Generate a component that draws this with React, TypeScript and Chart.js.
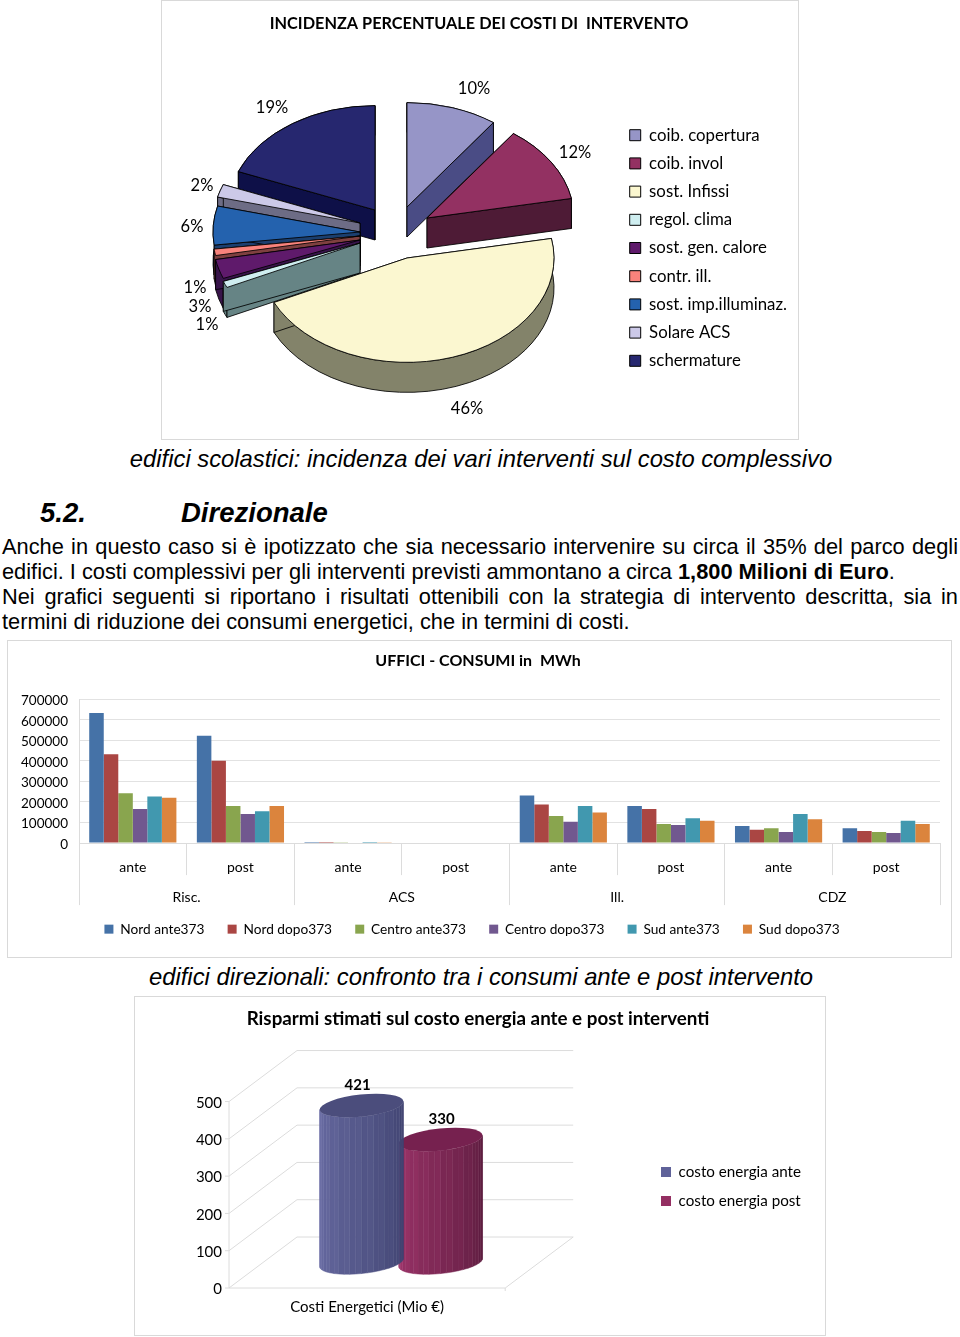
import React, { useEffect, useRef } from "react";
import { Chart, registerables } from "chart.js";

Chart.register(...registerables);
Chart.defaults.font.family = "Lato";
Chart.defaults.color = "#000";

// ---------- pie ----------
const pieTitle = "INCIDENZA PERCENTUALE DEI COSTI DI  INTERVENTO";
const pieLabels = ["coib. copertura", "coib. invol", "sost. Infissi", "regol. clima", "sost. gen. calore", "contr. ill.", "sost. imp.illuminaz.", "Solare ACS", "schermature"];
const pieValues = [10, 12, 46, 1, 3, 1, 6, 2, 19];
const pieColors = ["#9695c7", "#933162", "#fbf7d0", "#cfeef0", "#5f1a6b", "#f8837c", "#2462ae", "#ccc9e8", "#26276f"];
const pieSides = ["#4a4c85", "#4e1b36", "#83836a", "#668485", "#38144a", "#7f4040", "#1b3f6f", "#6d6c85", "#0e1048"];
const pieShift = [[14, -25], [34, -14], [14, 26], [-33, 11], [-33, 8], [-33, 4], [-33, 0], [-33, -9], [-18, -22]];
const pieDrawOrder = [8, 0, 1, 7, 6, 5, 4, 3, 2];
const pieLabelOffsets = [[81, -143], [182, -79], [74, 177], [-198, 56], [-193, 75], [-186, 93], [-201, -5], [-191, -46], [-121, -124]];

// ---------- grouped bars ----------
const barTitle = "UFFICI - CONSUMI in  MWh";
const useLabels = ["ante", "post", "ante", "post", "ante", "post", "ante", "post"];
const groupLabels = ["Risc.", "ACS", "Ill.", "CDZ"];
const seriesNames = ["Nord ante373", "Nord dopo373", "Centro ante373", "Centro dopo373", "Sud ante373", "Sud dopo373"];
const seriesColors = ["#4572a7", "#aa4643", "#89a54e", "#71588f", "#4198af", "#db843d"];
const nordAnte = [633000, 522000, 5000, 0, 232000, 181000, 83000, 72000];
const nordDopo = [432000, 400000, 5000, 0, 188000, 166000, 65000, 59000];
const centroAnte = [243000, 181000, 4000, 0, 132000, 93000, 72000, 54000];
const centroDopo = [166000, 142000, 0, 0, 104000, 88000, 54000, 49000];
const sudAnte = [227000, 155000, 5000, 0, 181000, 121000, 142000, 109000];
const sudDopo = [220000, 181000, 4000, 0, 149000, 109000, 116000, 93000];
const barSeries = [nordAnte, nordDopo, centroAnte, centroDopo, sudAnte, sudDopo];

// ---------- cylinders ----------
const cylTitle = "Risparmi stimati sul costo energia ante e post interventi";
const cylCategory = ["Costi Energetici (Mio €)"];
const cylNames = ["costo energia ante", "costo energia post"];
const cylValues = [421, 330];
const cylSwatch = ["#5f6299", "#942f62"];
const cylLight = [[104, 107, 162], [158, 52, 106]];
const cylDark = [[62, 65, 110], [90, 28, 62]];
const cylTop = ["#4b4d7c", "#76214f"];

const nudge = {
  id: "nudge",
  afterLayout(chart: any, _a: any, opts: any) {
    const move = (box: any, d: number[]) => {
      if (!box || !d) return;
      box.left += d[0];
      box.right += d[0];
      box.top += d[1];
      box.bottom += d[1];
    };
    move(chart.legend, opts.legend);
    move(chart.titleBlock, opts.title);
  },
};

const pie3d = {
  id: "pie3d",
  beforeDatasetDraw(chart: any, _args: any, opts: any) {
    const ctx = chart.ctx;
    const arcs = chart.getDatasetMeta(0).data;
    const a0 = arcs[0];
    const s = opts.squash;
    ctx.save();
    ctx.translate(opts.cx, opts.cy);
    ctx.scale(1, s);
    ctx.translate(-a0.x, -a0.y);
    const off = (i: number) => [pieShift[i][0], pieShift[i][1] / s];
    for (const i of pieDrawOrder) {
      const a = arcs[i];
      const [dx, dy] = off(i);
      const depth = opts.depth / s;
      const ax = a.x + dx, ay = a.y + dy;
      ctx.strokeStyle = "#000";
      ctx.lineWidth = 1;
      ctx.fillStyle = pieSides[i];
      // outer curved wall
      ctx.beginPath();
      ctx.arc(ax, ay, a.outerRadius, a.startAngle, a.endAngle);
      ctx.arc(ax, ay + depth, a.outerRadius, a.endAngle, a.startAngle, true);
      ctx.closePath();
      ctx.fill();
      ctx.stroke();
      // radial walls
      for (const ang of [a.startAngle, a.endAngle]) {
        const ex = ax + Math.cos(ang) * a.outerRadius;
        const ey = ay + Math.sin(ang) * a.outerRadius;
        ctx.beginPath();
        ctx.moveTo(ax, ay);
        ctx.lineTo(ex, ey);
        ctx.lineTo(ex, ey + depth);
        ctx.lineTo(ax, ay + depth);
        ctx.closePath();
        ctx.fill();
        ctx.stroke();
      }
    }
    for (const i of pieDrawOrder) {
      const [dx, dy] = off(i);
      ctx.save();
      ctx.translate(dx, dy);
      arcs[i].draw(ctx);
      ctx.restore();
    }
    ctx.restore();
    ctx.save();
    ctx.fillStyle = "#000";
    ctx.font = "16.5px Lato";
    ctx.textAlign = "center";
    ctx.textBaseline = "middle";
    pieValues.forEach((v, i) => {
      ctx.fillText(v + "%", opts.cx + pieLabelOffsets[i][0], opts.cy + pieLabelOffsets[i][1]);
    });
    ctx.restore();
    return false;
  },
};

const DX = 68;
const DY = 51;

const wall3d = {
  id: "wall3d",
  beforeDatasetsDraw(chart: any) {
    const ctx = chart.ctx;
    const y = chart.scales.y;
    const { left, right, bottom } = chart.chartArea;
    ctx.save();
    ctx.strokeStyle = "#dcdcdc";
    ctx.lineWidth = 1;
    y.ticks.forEach((t: any) => {
      const py = y.getPixelForValue(t.value);
      ctx.beginPath();
      ctx.moveTo(left - 4, py);
      ctx.lineTo(left, py);
      ctx.lineTo(left + DX, py - DY);
      ctx.lineTo(right + DX, py - DY);
      ctx.stroke();
    });
    ctx.beginPath();
    ctx.moveTo(left, y.getPixelForValue(y.max));
    ctx.lineTo(left, bottom);
    ctx.lineTo(right, bottom);
    ctx.lineTo(right + DX, bottom - DY);
    ctx.moveTo(right, bottom);
    ctx.lineTo(right, bottom + 3);
    ctx.stroke();
    ctx.restore();
  },
};

function mix(a: number[], b: number[], f: number) {
  return `rgb(${a.map((v, i) => Math.round(v + (b[i] - v) * f)).join(",")})`;
}

const cylinders = {
  id: "cylinders",
  beforeDatasetDraw(chart: any, args: any) {
    const i = args.index;
    const ctx = chart.ctx;
    const bar = chart.getDatasetMeta(i).data[0];
    const cx = bar.x + DX / 2;
    const top = bar.y - DY / 2;
    const base = bar.base - DY / 2;
    const rx = bar.width / 2 + 2.5;
    const ry = 11;
    const th = (-6 * Math.PI) / 180;
    const pt = (t: number) => [
      rx * Math.cos(t) * Math.cos(th) - ry * Math.sin(t) * Math.sin(th),
      rx * Math.cos(t) * Math.sin(th) + ry * Math.sin(t) * Math.cos(th),
    ];
    const t0 = Math.atan2(-ry * Math.sin(th), rx * Math.cos(th));
    const N = 22;
    ctx.save();
    for (let k = 0; k < N; k++) {
      const a = pt(t0 + (Math.PI * k) / N);
      const b = pt(t0 + (Math.PI * (k + 1)) / N);
      const shade = k % 2 === 0 ? 0 : 0.06;
      const c = mix(cylDark[i], cylLight[i], Math.min(1, k / (N - 1) + shade));
      ctx.fillStyle = c;
      ctx.strokeStyle = c;
      ctx.lineWidth = 0.5;
      ctx.beginPath();
      ctx.moveTo(cx + a[0], top + a[1]);
      ctx.lineTo(cx + b[0], top + b[1]);
      ctx.lineTo(cx + b[0], base + b[1]);
      ctx.lineTo(cx + a[0], base + a[1]);
      ctx.closePath();
      ctx.fill();
      ctx.stroke();
    }
    ctx.fillStyle = cylTop[i];
    ctx.beginPath();
    ctx.ellipse(cx, top, rx, ry, th, 0, Math.PI * 2);
    ctx.fill();
    ctx.fillStyle = "#000";
    ctx.font = "bold 15px Lato";
    ctx.textAlign = "center";
    ctx.textBaseline = "middle";
    ctx.fillText(String(chart.data.datasets[i].data[0]), cx + (i === 0 ? -4 : 1), top - 20);
    ctx.restore();
    return false;
  },
};

function ChartBox({ left, top, width, height, make }: any) {
  const ref = useRef<HTMLCanvasElement>(null);
  useEffect(() => {
    const chart = new Chart(ref.current as HTMLCanvasElement, make());
    return () => chart.destroy();
  }, []);
  return (
    <div style={{ position: "absolute", left, top, width, height, border: "1px solid #d9d9d9", background: "#fff" }}>
      <canvas ref={ref} width={width} height={height} style={{ display: "block", width, height }} />
    </div>
  );
}

const pieConfig = () => ({
  type: "pie",
  data: {
    labels: pieLabels,
    datasets: [{ data: pieValues, backgroundColor: pieColors, borderColor: "#000", borderWidth: 1 }],
  },
  plugins: [pie3d, nudge],
  options: {
    responsive: false,
    animation: false,
    radius: 147,
    layout: { padding: { top: 0, right: 2, bottom: 0, left: 0 } },
    plugins: {
      title: { display: true, text: pieTitle, font: { size: 16.3, weight: "bold" }, padding: { top: 13, bottom: 10 } },
      legend: {
        position: "right",
        maxWidth: 300,
        labels: { boxWidth: 11, boxHeight: 11, padding: 11.4, font: { size: 16.8 } },
      },
      tooltip: { enabled: false },
      pie3d: { cx: 231, cy: 231, squash: 0.71, depth: 30 },
      nudge: { legend: [1, 28] },
    },
  },
});

const barConfig = () => ({
  type: "bar",
  data: {
    labels: useLabels,
    datasets: seriesNames.map((n, i) => ({
      label: n,
      data: barSeries[i],
      backgroundColor: seriesColors[i],
      barPercentage: 1,
      categoryPercentage: 0.81,
    })),
  },
  plugins: [nudge],
  options: {
    responsive: false,
    animation: false,
    layout: { padding: { top: 0, right: 11, bottom: 5, left: 0 } },
    scales: {
      y: {
        min: 0,
        max: 700000,
        ticks: { stepSize: 100000, font: { size: 13.5 }, padding: 11, autoSkip: false, labelOffset: 1.5, callback: (v: any) => String(v) },
        grid: { color: "#e2e2e2", drawTicks: false },
        border: { color: "#dcdcdc" },
        afterFit: (s: any) => { s.width = 71; },
      },
      x: {
        offset: true,
        weight: 0,
        grid: { offset: true, drawOnChartArea: false, tickLength: 32, color: "#dcdcdc" },
        border: { color: "#dcdcdc" },
        ticks: { padding: -16, font: { size: 14 }, maxRotation: 0, autoSkip: false },
        afterFit: (s: any) => { s.height = 32; },
      },
      x2: {
        type: "category",
        labels: groupLabels,
        position: "bottom",
        offset: true,
        weight: 1,
        grid: { offset: true, drawOnChartArea: false, tickLength: 30, color: "#dcdcdc" },
        border: { display: false },
        ticks: { padding: -16, font: { size: 14 }, maxRotation: 0, autoSkip: false },
        afterFit: (s: any) => { s.height = 30; },
      },
    },
    plugins: {
      title: { display: true, text: barTitle, font: { size: 16, weight: "bold" }, padding: { top: 10, bottom: 29 } },
      legend: {
        position: "bottom",
        labels: { boxWidth: 9, boxHeight: 9, padding: 23.2, font: { size: 13.7 } },
      },
      tooltip: { enabled: false },
      nudge: { legend: [-2, -6], title: [4, 0] },
    },
  },
});

const cylConfig = () => ({
  type: "bar",
  data: {
    labels: cylCategory,
    datasets: cylNames.map((n, i) => ({
      label: n,
      data: [cylValues[i]],
      backgroundColor: cylSwatch[i],
      barPercentage: 1,
      categoryPercentage: 0.573,
    })),
  },
  plugins: [wall3d, cylinders, nudge],
  options: {
    responsive: false,
    animation: false,
    layout: { padding: { top: 0, right: 0, bottom: 0, left: 0 } },
    scales: {
      y: {
        min: 0,
        max: 500,
        ticks: { stepSize: 100, font: { size: 15 }, padding: 7, autoSkip: false, labelOffset: 1.5 },
        grid: { display: false, drawTicks: false },
        border: { display: false },
        afterFit: (s: any) => { s.width = 94; },
      },
      gap: {
        type: "linear",
        position: "right",
        display: true,
        ticks: { display: false },
        grid: { display: false, drawTicks: false },
        border: { display: false },
        afterFit: (s: any) => { s.width = 156; },
      },
      x: {
        grid: { display: false, drawTicks: false },
        border: { display: false },
        ticks: { font: { size: 15 }, padding: 10 },
        afterFit: (s: any) => { s.height = 47; },
      },
    },
    plugins: {
      title: { display: true, text: cylTitle, font: { size: 18.8, weight: "bold" }, padding: { top: 11, bottom: 71 } },
      legend: {
        position: "right",
        maxWidth: 300,
        labels: { boxWidth: 10, boxHeight: 10, padding: 13.8, font: { size: 15.2 } },
      },
      tooltip: { enabled: false },
      nudge: { legend: [-14, 20.5], title: [-2, 0] },
    },
  },
});

const bodyFont = '"Liberation Sans", Arial, sans-serif';

function Line({ top, justify, children }: any) {
  return (
    <div
      style={{
        position: "absolute",
        left: 2,
        top,
        width: 956,
        fontFamily: bodyFont,
        fontSize: 21.8,
        lineHeight: "25px",
        textAlign: justify ? "justify" : "left",
        textAlignLast: justify ? "justify" : "left",
      }}
    >
      {children}
    </div>
  );
}

function Caption({ top, children }: any) {
  return (
    <div
      style={{
        position: "absolute",
        left: 1,
        top,
        width: 960,
        textAlign: "center",
        fontFamily: bodyFont,
        fontStyle: "italic",
        fontSize: 23.8,
        lineHeight: "28px",
        whiteSpace: "nowrap",
      }}
    >
      {children}
    </div>
  );
}

const headStyle: any = { position: "absolute", top: 497, fontFamily: bodyFont, fontStyle: "italic", fontWeight: "bold", fontSize: 27.5, lineHeight: "32px" };

export default function App() {
  return (
    <div style={{ position: "absolute", left: 0, top: 0, width: 960, height: 1337, background: "#fff", overflow: "hidden", color: "#000" }}>
      <ChartBox left={161} top={0} width={636} height={438} make={pieConfig} />
      <Caption top={445}>edifici scolastici: incidenza dei vari interventi sul costo complessivo</Caption>
      <div style={{ ...headStyle, left: 40 }}>5.2.</div>
      <div style={{ ...headStyle, left: 181 }}>Direzionale</div>
      <Line top={534} justify>Anche in questo caso si è ipotizzato che sia necessario intervenire su circa il 35% del parco degli</Line>
      <Line top={559}>edifici. I costi complessivi per gli interventi previsti ammontano a circa <b>1,800 Milioni di Euro</b>.</Line>
      <Line top={584} justify>Nei grafici seguenti si riportano i risultati ottenibili con la strategia di intervento descritta, sia in</Line>
      <Line top={609}>termini di riduzione dei consumi energetici, che in termini di costi.</Line>
      <ChartBox left={7} top={640} width={943} height={316} make={barConfig} />
      <Caption top={963}>edifici direzionali: confronto tra i consumi ante e post intervento</Caption>
      <ChartBox left={134} top={996} width={690} height={338} make={cylConfig} />
    </div>
  );
}
